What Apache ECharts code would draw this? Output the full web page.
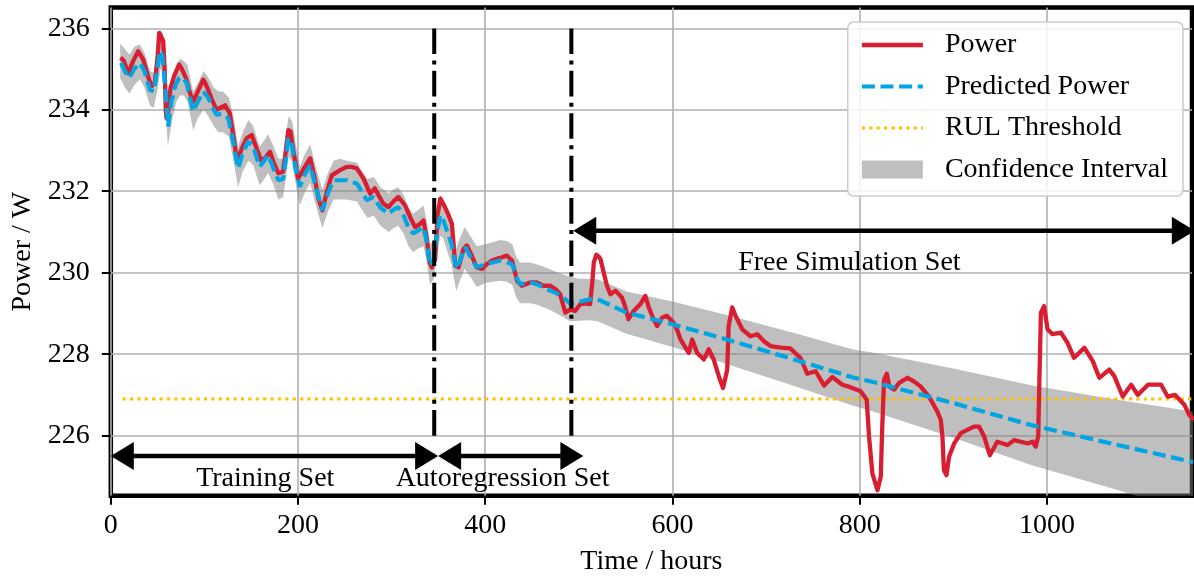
<!DOCTYPE html>
<html>
<head>
<meta charset="utf-8">
<script src="https://cdn.jsdelivr.net/npm/echarts@6/dist/echarts.min.js"></script>
<style>
html,body{margin:0;padding:0;background:#fff;}
#chart{width:1194px;height:579px;}
</style>
</head>
<body>
<div id="chart"></div>
<script>
// ---------- data ----------
const xTicks = [0, 200, 400, 600, 800, 1000];
const yTicks = [226, 228, 230, 232, 234, 236];

const powerData = [
[10.4,235.28],[14,235.2],[18.5,234.9],[24,235.2],[29.2,235.44],[34.6,235.23],[40,234.8],[43.5,234.58],[47,234.66],[50,235.3],[51.7,235.89],[53.5,235.93],[56,235.69],[57.5,235.0],[58.8,233.96],[59.5,233.8],[61,233.9],[63.8,234.54],[68,234.85],[73,235.11],[76,235.0],[80.2,234.78],[84,234.45],[88,234.2],[93,234.45],[98.7,234.74],[101,234.65],[104,234.49],[108,234.25],[113,234.0],[117,234.05],[122,234.11],[127,233.92],[130,233.5],[135,232.73],[140,233.05],[145,233.3],[150.5,233.38],[155,233.1],[161,232.73],[166,232.85],[170,232.97],[174,232.7],[179,232.44],[184,232.48],[187,233.0],[189.6,233.5],[192,233.47],[195,233.0],[200,232.31],[206,232.55],[213,232.81],[218,232.3],[222,231.8],[226,231.53],[231,232.0],[236,232.39],[245,232.52],[252,232.6],[257,232.6],[262.8,232.56],[266,232.45],[270,232.31],[277,231.94],[282,232.07],[286,231.9],[291,231.7],[296.6,231.61],[302,231.75],[307,231.86],[311,231.75],[314.4,231.65],[320,231.35],[325,231.12],[330.5,231.2],[334,231.28],[337.6,230.83],[340.5,230.26],[343,230.13],[346.5,230.34],[349,231.41],[352,231.82],[357,231.61],[361,231.4],[364.4,231.2],[368,230.17],[371.5,230.13],[376.8,230.59],[380.4,230.67],[384,230.5],[391,230.13],[396.5,230.09],[401.8,230.21],[407,230.3],[412.5,230.34],[418,230.38],[423,230.42],[428.6,230.3],[434,229.8],[439,229.68],[448,229.76],[455,229.76],[462,229.68],[469.5,229.68],[475,229.6],[480,229.47],[485.6,229.02],[491,229.1],[496,229.06],[501.6,229.23],[507,229.25],[512,229.23],[514.5,229.8],[516,230.26],[518.7,230.44],[521,230.4],[523,230.34],[526.5,230.01],[530,229.68],[533.7,229.47],[539,229.56],[546,229.39],[549,229.2],[553,228.86],[558.6,229.06],[565.8,229.23],[571,229.43],[574.7,229.15],[579,228.9],[583.6,228.69],[589,228.9],[594,228.94],[601,228.78],[605,228.6],[608.6,228.36],[613,228.2],[617.4,228.03],[621,228.36],[626.4,228.03],[633.5,227.87],[638.8,228.12],[644,227.87],[649.5,227.46],[654,227.17],[658.5,227.62],[660,228.69],[663.8,229.15],[667.4,228.94],[674.5,228.61],[683.4,228.44],[690.6,228.49],[697.6,228.32],[704.8,228.2],[715.5,228.16],[726,228.14],[737,227.9],[744,227.52],[753,227.58],[762,227.23],[770.8,227.44],[781.5,227.25],[790,227.19],[801,227.09],[807.5,226.88],[810,225.98],[813.6,225.07],[819,224.66],[822.5,224.99],[824,226.14],[826,227.37],[829,227.52],[831.6,227.21],[837,227.13],[842,227.29],[851,227.42],[858,227.33],[865,227.21],[874,226.96],[883,226.59],[886.6,226.39],[888.4,225.98],[890,225.15],[892.7,225.03],[895.5,225.48],[901,225.81],[908,226.06],[915,226.14],[922,226.22],[927.6,226.22],[933,225.98],[939,225.52],[947,225.85],[958,225.77],[965,225.89],[972,225.85],[979.4,225.81],[984.7,225.85],[988,225.73],[990.7,225.98],[992,227.38],[993.6,229.02],[997,229.18],[1000.7,228.61],[1006,228.49],[1015,228.53],[1022,228.28],[1029,227.91],[1040,228.16],[1049,227.83],[1056,227.42],[1066.6,227.62],[1072,227.46],[1081,226.96],[1090,227.25],[1097,227.0],[1108,227.25],[1122,227.25],[1129,226.96],[1137,227.0],[1146.8,226.76],[1152,226.51],[1157,226.39]
];

const predictedData = [
[11,235.15],[15,234.95],[19.6,234.78],[25,235.0],[31,235.15],[36,234.95],[41.7,234.49],[46,234.45],[49,234.9],[52.4,235.44],[55,235.35],[58,234.6],[61.3,233.59],[63,233.9],[65,234.21],[69,234.6],[73,234.78],[77,234.78],[81,234.66],[85,234.25],[88,233.96],[93,234.2],[98.7,234.45],[104,234.3],[109,234.05],[113,233.88],[119,233.9],[125.5,233.8],[130,233.3],[136,232.56],[141,232.95],[146.8,233.22],[152,233.1],[159,232.6],[164,232.75],[168,232.89],[173,232.6],[179,232.27],[184,232.3],[187,232.8],[189.6,233.3],[193,233.2],[197,232.6],[202,232.11],[207,232.4],[213,232.64],[219,232.1],[226,231.53],[232,231.95],[238,232.27],[245,232.27],[252,232.27],[262.8,232.19],[268,232.0],[273.5,231.78],[280.5,231.86],[288,231.6],[296.6,231.45],[302,231.55],[307,231.61],[313,231.4],[318,231.1],[323,230.96],[329,231.05],[334,231.12],[338,230.7],[341,230.17],[345,230.3],[348,230.9],[352,231.41],[355,231.3],[359,231.04],[364,230.7],[369,230.09],[373,230.3],[378.6,230.63],[384,230.4],[391,230.13],[400,230.21],[408,230.25],[416,230.3],[423,230.26],[429,230.2],[433,229.9],[437.4,229.72],[448,229.76],[455,229.72],[462,229.64],[469.5,229.56],[476,229.5],[483.7,229.39],[491,229.23],[500,229.28],[512,229.35],[520,229.35],[551,229.02],[601,228.73],[658,228.36],[730,227.87],[794,227.42],[812,227.33],[900,226.8],[983,226.26],[1070,225.8],[1156,225.35]
];

// [hours, lower, upper]
const confidenceBand = [
[10,234.78,235.62],[15,234.55,235.5],[20,234.4,235.35],[25,234.6,235.55],[31,234.75,235.6],[36,234.55,235.4],[42,234.1,234.95],[46,234.05,234.9],[50,234.5,235.4],[53,235.0,235.95],[56,234.9,235.85],[59,233.8,235.1],[61,233.1,234.2],[63,233.4,234.4],[66,233.8,234.7],[70,234.2,235.1],[74,234.35,235.25],[78,234.35,235.2],[82,234.2,235.1],[88,233.5,234.45],[93,233.8,234.65],[99,234.0,234.95],[104,233.85,234.8],[110,233.6,234.55],[115,233.45,234.45],[120,233.45,234.45],[126,233.35,234.3],[131,232.75,233.85],[136,232.1,233.1],[141,232.5,233.45],[147,232.75,233.75],[152,232.65,233.6],[159,232.15,233.1],[164,232.3,233.25],[168,232.45,233.4],[174,232.15,233.1],[179,231.8,232.8],[184,231.85,232.8],[187,232.3,233.4],[190,232.85,233.85],[194,232.7,233.7],[198,232.1,233.1],[202,231.65,232.6],[207,231.95,232.9],[213,232.2,233.15],[219,231.65,232.6],[226,231.1,232.05],[232,231.5,232.45],[238,231.8,232.75],[245,231.8,232.8],[252,231.8,232.75],[263,231.75,232.7],[268,231.55,232.5],[274,231.35,232.3],[281,231.4,232.35],[288,231.15,232.1],[297,231.0,231.95],[302,231.1,232.05],[307,231.15,232.1],[313,230.95,231.9],[318,230.65,231.6],[323,230.5,231.45],[329,230.6,231.55],[334,230.65,231.65],[338,230.2,231.2],[341,229.7,230.7],[345,229.85,230.8],[348,230.4,231.4],[352,230.9,231.9],[355,230.85,231.8],[359,230.55,231.5],[364,230.2,231.2],[369,229.55,230.6],[373,229.8,230.85],[378,230.1,231.12],[384,229.9,230.9],[391,229.65,230.65],[400,229.75,230.7],[408,229.78,230.75],[416,229.8,230.8],[423,229.78,230.78],[429,229.7,230.7],[433,229.4,230.4],[437,229.25,230.25],[448,229.25,230.25],[455,229.22,230.2],[462,229.15,230.15],[470,229.08,230.08],[476,229.0,230.02],[484,228.9,229.95],[491,228.8,229.9],[500,228.82,229.85],[512,228.83,229.85],[520,228.81,229.84],[551,228.5,229.54],[601,228.17,229.29],[658,227.76,228.96],[730,227.22,228.52],[794,226.73,228.11],[812,226.61,228.05],[900,225.95,227.65],[983,225.28,227.24],[1070,224.7,226.9],[1156,224.11,226.59]
];

const rulThreshold = 226.9;
const thresholdSpan = [12.5, 1155];
const setBoundaries = [345.5, 492];
const boundarySpan = [226, 236];
// [from hours, to hours, level]
const setArrows = [[0, 349.7, 225.5], [349.7, 504.8, 225.5], [494, 1158, 231.03]];
const setLabels = ['Training Set', 'Autoregression Set', 'Free Simulation Set'];
const setLabelPos = [[165, 224.95], [418.5, 224.95], [789, 230.25]];

// ---------- chart ----------
const FONT = '"Liberation Serif", "Times New Roman", serif';
const chart = echarts.init(document.getElementById('chart'), null, {renderer: 'canvas'});
const hiddenSymbol = {color: 'rgba(0,0,0,0)', borderColor: 'rgba(0,0,0,0)', borderWidth: 0, opacity: 0};

const option = {
  animation: false,
  grid: {
    left: 110.8, right: 2, top: 7.5, bottom: 83.2,
    show: true, borderColor: '#000', borderWidth: 4.5, backgroundColor: 'transparent',
    containLabel: false, outerBoundsMode: 'none'
  },
  legend: {
    orient: 'vertical', right: 11, top: 22,
    padding: [9, 15, 12.5, 12],
    itemWidth: 61, itemHeight: 18, itemGap: 13.5,
    backgroundColor: 'rgba(255,255,255,0.85)',
    borderColor: '#cccccc', borderWidth: 1.5, borderRadius: 6,
    selectedMode: false,
    lineStyle: {width: 'inherit'},
    textStyle: {fontFamily: FONT, fontSize: 28, lineHeight: 28, color: '#000', padding: [0, 0, 0, 17]},
    data: [
      {name: 'Power', itemStyle: hiddenSymbol},
      {name: 'Predicted Power', itemStyle: hiddenSymbol},
      {name: 'RUL Threshold', itemStyle: hiddenSymbol},
      {name: 'Confidence Interval', icon: 'rect', itemStyle: {color: '#bfbfbf'}}
    ]
  },
  xAxis: {
    type: 'value', min: 0, max: 1155,
    name: 'Time / hours', nameLocation: 'middle', nameGap: 52,
    nameTextStyle: {fontFamily: FONT, fontSize: 28, color: '#000'},
    axisLine: {show: false},
    axisTick: {show: true, inside: false, length: 9, lineStyle: {color: '#000', width: 2}, customValues: xTicks},
    axisLabel: {fontFamily: FONT, fontSize: 28, color: '#000', margin: 16, customValues: xTicks,
                formatter: function (v) { return String(v); }},
    splitLine: {show: true, lineStyle: {color: '#b0b0b0', width: 1.6}}
  },
  yAxis: {
    type: 'value', min: 224.523, max: 236.511,
    name: 'Power / W', nameLocation: 'middle', nameGap: 74,
    nameTextStyle: {fontFamily: FONT, fontSize: 28, color: '#000'},
    axisLine: {show: false},
    axisTick: {show: true, inside: false, length: 9, lineStyle: {color: '#000', width: 2}, customValues: yTicks},
    axisLabel: {fontFamily: FONT, fontSize: 28, color: '#000', margin: 21, customValues: yTicks,
                formatter: function (v) { return String(v); }},
    splitLine: {show: true, lineStyle: {color: '#b0b0b0', width: 1.6}}
  },
  series: [
    {
      name: 'Confidence Interval', type: 'custom', clip: true, silent: true, z: 1,
      itemStyle: {color: '#bfbfbf'},
      data: [[confidenceBand[0][0], confidenceBand[0][1]]],
      renderItem: function (params, api) {
        const upper = confidenceBand.map(d => api.coord([d[0], d[2]]));
        const lower = confidenceBand.slice().reverse().map(d => api.coord([d[0], d[1]]));
        return {
          type: 'polygon',
          shape: {points: upper.concat(lower)},
          style: {fill: 'rgba(128,128,128,0.5)'}
        };
      }
    },
    {
      name: 'RUL Threshold', type: 'line', symbol: 'none', silent: true, z: 2,
      data: [[thresholdSpan[0], rulThreshold], [thresholdSpan[1], rulThreshold]],
      lineStyle: {color: '#ffc000', width: 3.2, type: [3.2, 4.2]},
      itemStyle: {color: '#ffc000'}
    },
    {
      name: 'Power', type: 'line', symbol: 'none', silent: true, z: 3,
      data: powerData,
      lineStyle: {color: '#d81e30', width: 4.3, join: 'round'},
      itemStyle: {color: '#d81e30'}
    },
    {
      name: 'Predicted Power', type: 'line', symbol: 'none', silent: true, z: 4,
      data: predictedData,
      lineStyle: {color: '#00a6e3', width: 4.2, type: [13, 5.6]},
      itemStyle: {color: '#00a6e3'}
    },
    {
      name: 'boundaries', type: 'custom', silent: true, z: 5,
      data: setBoundaries.map(h => [h, boundarySpan[0]]),
      renderItem: function (params, api) {
        const h = api.value(0);
        const p0 = api.coord([h, boundarySpan[0]]);
        const p1 = api.coord([h, boundarySpan[1]]);
        return {
          type: 'line',
          shape: {x1: p0[0], y1: p0[1], x2: p1[0], y2: p1[1]},
          style: {stroke: '#000', lineWidth: 4, lineDash: [25.6, 6.4, 4, 6.4], fill: null}
        };
      }
    },
    {
      name: 'arrows', type: 'custom', silent: true, z: 6,
      data: setArrows.map(a => [a[0], a[2], a[1]]),
      renderItem: function (params, api) {
        const a = setArrows[params.dataIndex];
        const p1 = api.coord([a[0], a[2]]);
        const p2 = api.coord([a[1], a[2]]);
        const L = 23, W = 14;
        const y = p1[1];
        return {
          type: 'group',
          children: [
            {type: 'line', shape: {x1: p1[0] + L - 1, y1: y, x2: p2[0] - L + 1, y2: y},
             style: {stroke: '#000', lineWidth: 4.5}},
            {type: 'polygon', shape: {points: [[p1[0], y], [p1[0] + L, y - W], [p1[0] + L, y + W]]},
             style: {fill: '#000'}},
            {type: 'polygon', shape: {points: [[p2[0], y], [p2[0] - L, y - W], [p2[0] - L, y + W]]},
             style: {fill: '#000'}}
          ]
        };
      }
    },
    {
      name: 'labels', type: 'custom', silent: true, z: 7,
      data: setLabelPos,
      renderItem: function (params, api) {
        const p = api.coord([api.value(0), api.value(1)]);
        return {
          type: 'text',
          style: {
            text: setLabels[params.dataIndex], x: p[0], y: p[1],
            align: 'center', verticalAlign: 'middle',
            font: '28px ' + FONT, fill: '#000'
          }
        };
      }
    }
  ]
};
chart.setOption(option);
</script>
</body>
</html>
